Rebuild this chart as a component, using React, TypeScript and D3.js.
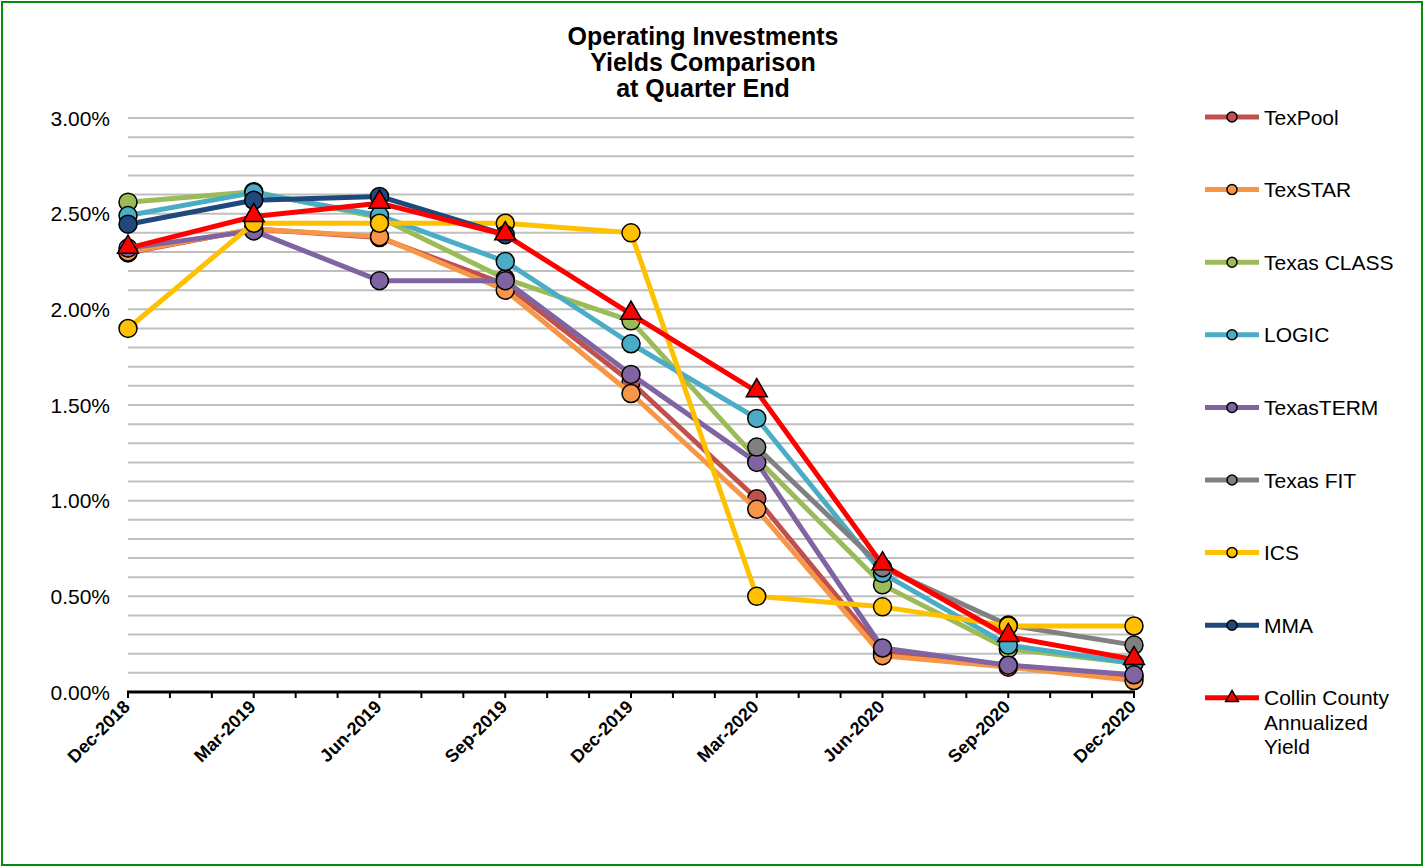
import React from "react";
import * as d3 from "d3";

const quarters = ["Dec-2018", "Mar-2019", "Jun-2019", "Sep-2019", "Dec-2019", "Mar-2020", "Jun-2020", "Sep-2020", "Dec-2020"];
const texPool = [2.295, 2.42, 2.375, 2.13, 1.62, 1.01, 0.21, 0.14, 0.08];
const texStar = [2.3, 2.42, 2.38, 2.1, 1.56, 0.955, 0.19, 0.13, 0.06];
const texasClass = [2.56, 2.615, 2.48, 2.16, 1.94, 1.22, 0.56, 0.225, 0.15];
const logic = [2.49, 2.61, 2.49, 2.25, 1.82, 1.43, 0.62, 0.245, 0.15];
const texasTerm = [2.32, 2.41, 2.15, 2.15, 1.66, 1.2, 0.23, 0.14, 0.09];
const texasFit = [null, null, null, null, null, 1.28, 0.65, 0.35, 0.245];
const ics = [1.9, 2.45, 2.45, 2.45, 2.4, 0.5, 0.445, 0.345, 0.345];
const mma = [2.445, 2.57, 2.59, 2.39, null, null, null, null, null];
const collin = [2.32, 2.485, 2.555, 2.39, 1.975, 1.57, 0.665, 0.29, 0.17];
const yTicks = [0, 0.5, 1, 1.5, 2, 2.5, 3];

const series = [
  { name: ["TexPool"], values: texPool, color: "#c0504d", marker: "circle" },
  { name: ["TexSTAR"], values: texStar, color: "#f79646", marker: "circle" },
  { name: ["Texas CLASS"], values: texasClass, color: "#9bbb59", marker: "circle" },
  { name: ["LOGIC"], values: logic, color: "#4bacc6", marker: "circle" },
  { name: ["TexasTERM"], values: texasTerm, color: "#8064a2", marker: "circle" },
  { name: ["Texas FIT"], values: texasFit, color: "#808080", marker: "circle" },
  { name: ["ICS"], values: ics, color: "#ffc000", marker: "circle" },
  { name: ["MMA"], values: mma, color: "#1f497d", marker: "circle" },
  { name: ["Collin County", "Annualized", "Yield"], values: collin, color: "#ff0000", marker: "triangle" },
];

const W = 1424, H = 867;
const left = 128, right = 1134, top = 118, bottom = 692;

export default function App() {
  const x = d3.scaleLinear().domain([0, 24]).range([left, right]);
  const y = d3.scaleLinear().domain([0, 3]).range([bottom, top]);
  const grid = d3.range(1, 31).map((i) => i / 10);
  const months = d3.range(0, 25);
  const line = d3
    .line<number | null>()
    .defined((d) => d !== null)
    .x((_, i) => x(i * 3))
    .y((d) => y(d as number));
  const font = "'Liberation Sans', Arial, sans-serif";
  const tri = d3.symbol().type(d3.symbolTriangle).size(190)();
  const triSmall = d3.symbol().type(d3.symbolTriangle).size(70)();
  const legendY = (i: number) => 117 + i * 72.6;

  return (
    <svg width={W} height={H} style={{ position: "absolute", left: 0, top: 0, background: "#fff" }} fontFamily={font}>
      <rect x={2} y={2} width={W - 4} height={H - 4} fill="#fff" stroke="#0a8a0a" strokeWidth={2} />
      <text x={703} y={45} textAnchor="middle" fontWeight="bold" fontSize={25}>Operating Investments</text>
      <text x={703} y={71} textAnchor="middle" fontWeight="bold" fontSize={25}>Yields Comparison</text>
      <text x={703} y={97} textAnchor="middle" fontWeight="bold" fontSize={25}>at Quarter End</text>
      {grid.map((g) => (
        <line key={g} x1={left} x2={right} y1={y(g)} y2={y(g)} stroke="#bfbfbf" strokeWidth={2} />
      ))}
      {yTicks.map((t) => (
        <text key={t} x={110} y={y(t) + 7.5} textAnchor="end" fontSize={21}>{t.toFixed(2) + "%"}</text>
      ))}
      <line x1={left - 1} x2={right + 1} y1={bottom} y2={bottom} stroke="#000" strokeWidth={3} />
      {months.map((m) => (
        <line key={m} x1={x(m)} x2={x(m)} y1={bottom} y2={bottom + 6} stroke="#000" strokeWidth={2} />
      ))}
      {quarters.map((q, i) => (
        <text key={q} transform={`translate(${x(i * 3) + 3},${bottom + 16}) rotate(-45)`} textAnchor="end" fontWeight="bold" fontSize={18}>{q}</text>
      ))}
      {series.map((s) => (
        <g key={s.name[0]}>
          <path d={line(s.values) || ""} fill="none" stroke={s.color} strokeWidth={5} strokeLinejoin="round" />
          {s.values.map((v, i) =>
            v === null ? null : s.marker === "circle" ? (
              <circle key={i} cx={x(i * 3)} cy={y(v)} r={9} fill={s.color} stroke="#000" strokeWidth={1.5} />
            ) : (
              <path key={i} d={tri || ""} transform={`translate(${x(i * 3)},${y(v) - 1})`} fill={s.color} stroke="#000" strokeWidth={1.5} />
            )
          )}
        </g>
      ))}
      {series.map((s, i) => (
        <g key={"lg" + i} transform={`translate(0,${legendY(i)})`}>
          <line x1={1205} x2={1259} y1={0} y2={0} stroke={s.color} strokeWidth={5} />
          {s.marker === "circle" ? (
            <circle cx={1232} cy={0} r={5} fill={s.color} stroke="#000" strokeWidth={1.5} />
          ) : (
            <path d={triSmall || ""} transform="translate(1232,0)" fill={s.color} stroke="#000" strokeWidth={1.5} />
          )}
          {s.name.map((n, j) => (
            <text key={n} x={1264} y={7.5 + j * 24.5} fontSize={21}>{n}</text>
          ))}
        </g>
      ))}
    </svg>
  );
}
